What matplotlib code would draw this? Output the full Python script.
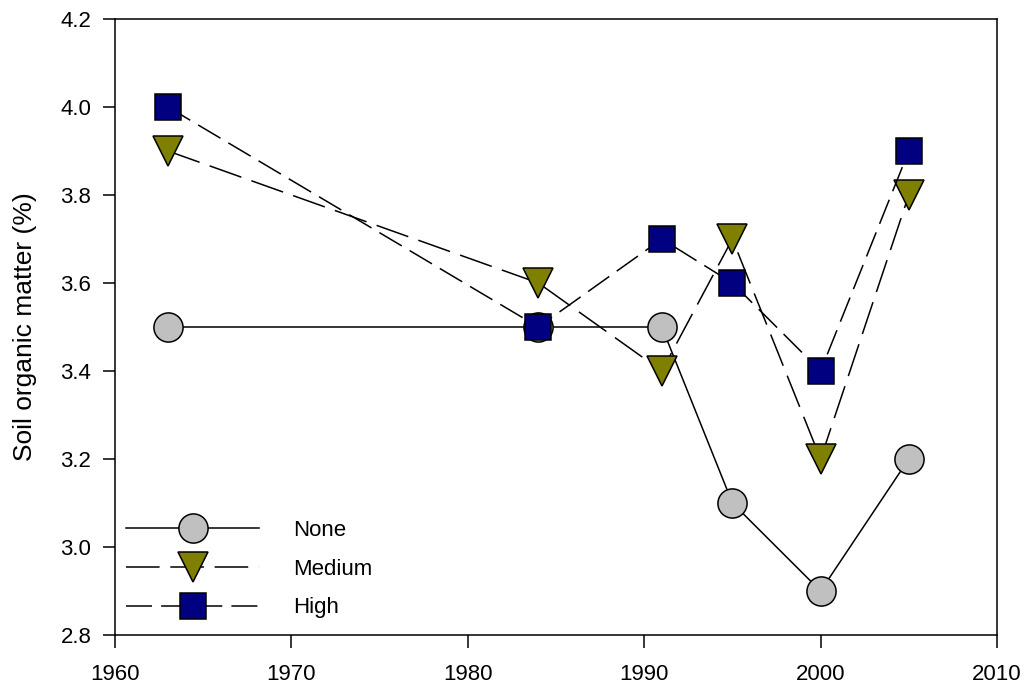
import matplotlib
matplotlib.use("Agg")
import matplotlib.pyplot as plt

years = [1963, 1984, 1991, 1995, 2000, 2005]
none_vals = [3.5, 3.5, 3.5, 3.1, 2.9, 3.2]
medium_vals = [3.9, 3.6, 3.4, 3.7, 3.2, 3.8]
high_vals = [4.0, 3.5, 3.7, 3.6, 3.4, 3.9]
xticks = [1960, 1970, 1980, 1990, 2000, 2010]
yticks = [2.8, 3.0, 3.2, 3.4, 3.6, 3.8, 4.0, 4.2]

plt.rcParams['font.family'] = ['Liberation Sans', 'DejaVu Sans']
fig = plt.figure(figsize=(10.27, 6.85), dpi=100)
ax = fig.add_axes([115/1027, 1 - 635/685, (997-115)/1027, (635-19)/685])

ax.plot(years, none_vals, '-', color='black', lw=1.1, marker='o', ms=21,
        mfc='#c0c0c0', mec='black', mew=1.1, label='None', zorder=3)
ax.plot(years, medium_vals, color='black', lw=1.1, dashes=(22, 7), marker='v', ms=22,
        mfc='#808000', mec='black', mew=1.1, label='Medium', zorder=4)
ax.plot(years, high_vals, color='black', lw=1.1, dashes=(17, 6), marker='s', ms=19,
        mfc='#000080', mec='black', mew=1.1, label='High', zorder=5)

ax.set_xlim(1960, 2010)
ax.set_ylim(2.8, 4.2)
ax.set_xticks(xticks)
ax.set_yticks(yticks)
ax.set_yticklabels([f"{v:.1f}" for v in yticks])
ax.tick_params(direction='out', length=9, width=1.1, labelsize=16)
ax.tick_params(axis='x', pad=12)
ax.tick_params(axis='y', pad=8)
for s in ax.spines.values():
    s.set_linewidth(1.1)
ax.set_ylabel('Soil organic matter (%)', fontsize=19, labelpad=17)

leg = ax.legend(loc='lower left', bbox_to_anchor=(0.0, 0.009), frameon=False, fontsize=16,
                handlelength=6.0, handletextpad=1.5, labelspacing=0.8, borderaxespad=0.1)

fig.savefig('out.png', dpi=100)
